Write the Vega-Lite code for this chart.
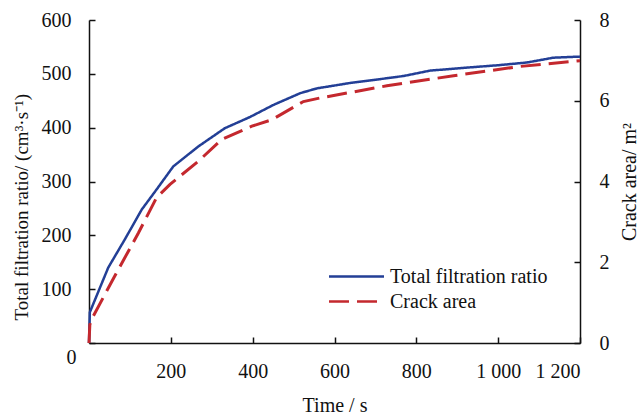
{
  "$schema": "https://vega.github.io/schema/vega-lite/v6.json",
  "autosize": {"type": "none"},
  "width": 491,
  "height": 323,
  "padding": {"left": 89, "top": 20, "right": 60, "bottom": 73},
  "background": "white",
  "config": {
    "view": {"stroke": null},
    "font": "Liberation Serif",
    "axis": {
      "labelFont": "Liberation Serif",
      "titleFont": "Liberation Serif",
      "labelFontSize": 20,
      "titleFontSize": 20,
      "titleFontWeight": "normal",
      "labelColor": "#111",
      "titleColor": "#111",
      "domainColor": "#111",
      "tickColor": "#111",
      "domainWidth": 1.5,
      "tickWidth": 1.5,
      "grid": false,
      "tickSize": -6
    },
    "legend": {
      "orient": "none",
      "legendX": 255,
      "legendY": 244,
      "title": null,
      "padding": 0,
      "labelFont": "Liberation Serif",
      "labelFontSize": 20,
      "labelColor": "#111",
      "symbolType": "M-2.5,0H2.5",
      "symbolSize": 484,
      "symbolStrokeWidth": 2.6,
      "rowPadding": 2,
      "labelOffset": 21
    }
  },
  "data": {
    "values": [
      {"t": 0, "series": "Total filtration ratio", "ratio": 0},
      {"t": 2, "series": "Total filtration ratio", "ratio": 57},
      {"t": 47, "series": "Total filtration ratio", "ratio": 140},
      {"t": 88, "series": "Total filtration ratio", "ratio": 193},
      {"t": 129, "series": "Total filtration ratio", "ratio": 248},
      {"t": 165, "series": "Total filtration ratio", "ratio": 285},
      {"t": 206, "series": "Total filtration ratio", "ratio": 328},
      {"t": 267, "series": "Total filtration ratio", "ratio": 365},
      {"t": 332, "series": "Total filtration ratio", "ratio": 399},
      {"t": 394, "series": "Total filtration ratio", "ratio": 420},
      {"t": 450, "series": "Total filtration ratio", "ratio": 442},
      {"t": 516, "series": "Total filtration ratio", "ratio": 464},
      {"t": 557, "series": "Total filtration ratio", "ratio": 473},
      {"t": 638, "series": "Total filtration ratio", "ratio": 483},
      {"t": 700, "series": "Total filtration ratio", "ratio": 489},
      {"t": 769, "series": "Total filtration ratio", "ratio": 496},
      {"t": 834, "series": "Total filtration ratio", "ratio": 506},
      {"t": 931, "series": "Total filtration ratio", "ratio": 512},
      {"t": 1000, "series": "Total filtration ratio", "ratio": 516},
      {"t": 1070, "series": "Total filtration ratio", "ratio": 521},
      {"t": 1135, "series": "Total filtration ratio", "ratio": 530},
      {"t": 1200, "series": "Total filtration ratio", "ratio": 532},
      {"t": 0, "series": "Crack area", "area": 0},
      {"t": 2, "series": "Crack area", "area": 0.45},
      {"t": 6.5, "series": "Crack area", "area": 0.59},
      {"t": 63, "series": "Crack area", "area": 1.66},
      {"t": 121, "series": "Crack area", "area": 2.73},
      {"t": 165, "series": "Crack area", "area": 3.6},
      {"t": 198, "series": "Crack area", "area": 3.93},
      {"t": 267, "series": "Crack area", "area": 4.5},
      {"t": 324, "series": "Crack area", "area": 5.04},
      {"t": 398, "series": "Crack area", "area": 5.37},
      {"t": 447, "series": "Crack area", "area": 5.53},
      {"t": 524, "series": "Crack area", "area": 5.98},
      {"t": 565, "series": "Crack area", "area": 6.07},
      {"t": 728, "series": "Crack area", "area": 6.37},
      {"t": 891, "series": "Crack area", "area": 6.62},
      {"t": 1054, "series": "Crack area", "area": 6.85},
      {"t": 1200, "series": "Crack area", "area": 6.99}
    ]
  },
  "encoding": {
    "x": {
      "field": "t",
      "type": "quantitative",
      "scale": {"domain": [0, 1200], "nice": false},
      "axis": {
        "title": "Time / s",
        "values": [200, 400, 600, 800, 1000, 1200],
        "labelExpr": "replace(format(datum.value, ','), ',', ' ')",
        "labelPadding": 24,
        "titlePadding": 14
      }
    },
    "color": {
      "field": "series",
      "type": "nominal",
      "scale": {"domain": ["Total filtration ratio", "Crack area"], "range": ["#233f96", "#c4282e"]}
    },
    "strokeDash": {
      "field": "series",
      "type": "nominal",
      "scale": {"domain": ["Total filtration ratio", "Crack area"], "range": [[1, 0], [20, 8]]}
    }
  },
  "layer": [
    {
      "transform": [{"filter": "datum.series === 'Total filtration ratio'"}],
      "mark": {"type": "line", "strokeWidth": 2.5},
      "encoding": {
        "y": {
          "field": "ratio",
          "type": "quantitative",
          "scale": {"domain": [0, 600], "nice": false},
          "axis": {
            "title": "Total filtration ratio/ (cm³·s⁻¹)",
            "orient": "left",
            "values": [0, 100, 200, 300, 400, 500, 600],
            "labelPadding": 24,
            "titlePadding": 10,
            "titleFontSize": 19,
            "titleAnchor": "start",
            "titleY": 300,
            "labelOffset": {"condition": {"test": "datum.value === 0", "value": 14}, "value": 0},
            "labelAlign": {"condition": {"test": "datum.value === 0", "value": "center"}, "value": "right"}
          }
        }
      }
    },
    {
      "transform": [{"filter": "datum.series === 'Crack area'"}],
      "mark": {"type": "line", "strokeWidth": 3},
      "encoding": {
        "y": {
          "field": "area",
          "type": "quantitative",
          "scale": {"domain": [0, 8], "nice": false},
          "axis": {
            "title": "Crack area/ m²",
            "orient": "right",
            "values": [0, 2, 4, 6, 8],
            "labelPadding": 25,
            "titlePadding": 30,
            "titleAngle": 270
          }
        }
      }
    }
  ],
  "resolve": {"scale": {"y": "independent"}}
}
